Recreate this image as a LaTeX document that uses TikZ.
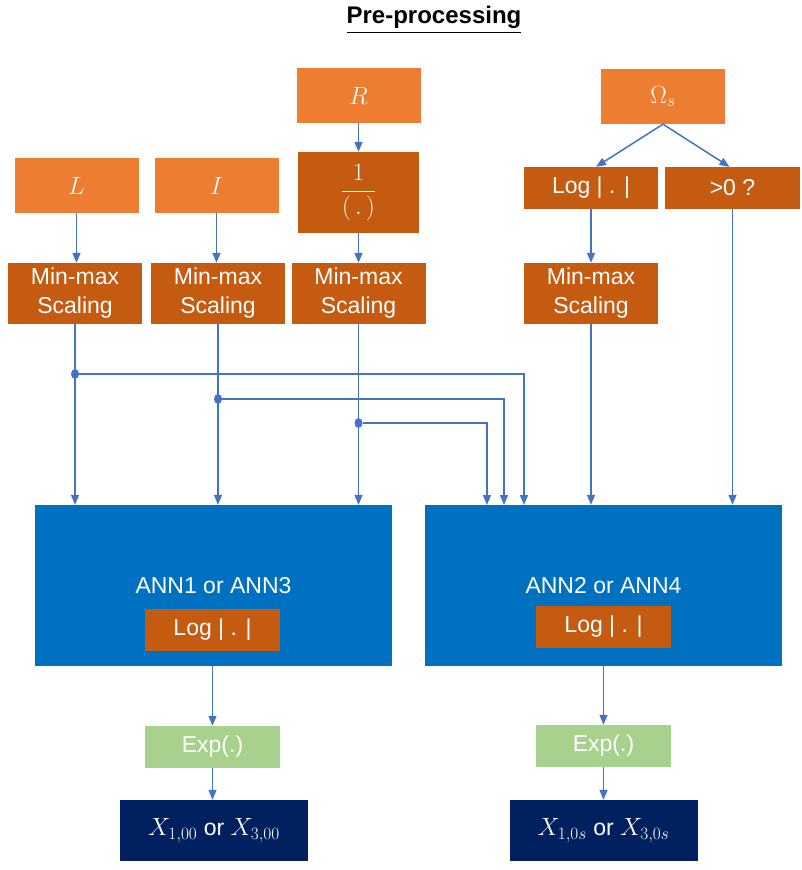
\documentclass[tikz,border=0pt]{standalone}
\usepackage{amsmath}
\usepackage{fontspec}
\setmainfont{Liberation Sans}
\usetikzlibrary{arrows.meta, positioning, calc, shapes.geometric}
\definecolor{inorange}{HTML}{ED7D31}
\definecolor{oporange}{HTML}{C55A11}
\definecolor{annblue}{HTML}{0070C0}
\definecolor{expgreen}{HTML}{A9D18E}
\definecolor{outnavy}{HTML}{002060}
\definecolor{linkblue}{HTML}{4472C4}

\begin{document}
\begin{tikzpicture}[x=1pt, y=-1pt,
  blk/.style={rectangle, fill=#1, text=white, inner sep=0pt, align=center,
    font=\fontsize{23}{29}\selectfont},
  inp/.style={blk=inorange, minimum width=124pt, minimum height=55pt,
    font=\fontsize{27}{30}\selectfont},
  op/.style={blk=oporange, minimum width=134pt, minimum height=42pt},
  mm/.style={blk=oporange, minimum width=134pt, minimum height=61pt},
  ann/.style={blk=annblue, minimum width=357pt, minimum height=161pt},
  expo/.style={blk=expgreen, minimum width=135pt, minimum height=42pt},
  outb/.style={blk=outnavy, minimum width=188pt, minimum height=61pt},
  arr/.style={-{Triangle[length=10pt,width=8pt]}, line width=1.5pt, linkblue},
  dot/.style={ellipse, fill=linkblue, inner sep=0pt, minimum width=8pt, minimum height=10pt}
]
  \useasboundingbox (0,0) rectangle (802,870);

  % Title
  \node[font=\fontsize{24}{28}\selectfont\bfseries] (title) at (434, 20)
    {\underline{Pre-processing}};

  % Inputs
  \node[inp] (inL) at (76.5, 185.5) {$L$};
  \node[inp] (inI) at (216.5, 185.5) {$I$};
  \node[inp] (inR) at (358.5, 95.5) {$R$};
  \node[inp] (inOm) at (663, 96.5) {$\Omega_s$};

  % Transformations
  \node[blk=oporange, minimum width=121pt, minimum height=81pt,
    font=\fontsize{26}{30}\selectfont] (recip) at (358.5, 192.5)
    {$\dfrac{1}{(\,.\,)}$};
  \node[op] (logOm) at (591, 188) {Log | . |};
  \node[op, minimum width=135pt] (pos) at (732.5, 188) {>0 ?};

  % Scaling
  \node[mm] (mm1) at (75, 293.5) {Min-max\\Scaling};
  \node[mm] (mm2) at (218, 293.5) {Min-max\\Scaling};
  \node[mm] (mm3) at (358.5, 293.5) {Min-max\\Scaling};
  \node[mm] (mm4) at (591, 293.5) {Min-max\\Scaling};

  % Networks
  \node[ann] (ann1) at (213.5, 585.5) {ANN1 or ANN3};
  \node[ann] (ann2) at (603.5, 585.5) {ANN2 or ANN4};
  \node[op, minimum width=135pt] (logA) at (212.5, 630) {Log | . |};
  \node[op, minimum width=135pt] (logB) at (603.5, 627) {Log | . |};

  % Outputs
  \node[expo] (exp1) at (212.5, 747) {Exp(.)};
  \node[expo] (exp2) at (603.5, 746) {Exp(.)};
  \node[outb] (out1) at (214, 830.5)
    {{\fontsize{26}{30}\selectfont$X_{1,00}$} or {\fontsize{26}{30}\selectfont$X_{3,00}$}};
  \node[outb] (out2) at (603.5, 830.5)
    {{\fontsize{26}{30}\selectfont$X_{1,0s}$} or {\fontsize{26}{30}\selectfont$X_{3,0s}$}};

  % Feeds into ANN2
  \coordinate (feedL) at (524, 505);
  \coordinate (feedI) at (504, 505);
  \coordinate (feedR) at (487, 505);

  % Arrows
  \draw[arr] (inL) -- (mm1.north -| inL);
  \draw[arr] (inI) -- (mm2.north -| inI);
  \draw[arr] (inR) -- (recip);
  \draw[arr] (recip) -- (mm3);
  \draw[arr] (inOm.south) -- ($(logOm.north)+(5,0)$);
  \draw[arr] (inOm.south) -- ($(pos.north)+(-3,0)$);
  \draw[arr] (logOm) -- (mm4);

  \draw[arr] (mm1) -- (mm1 |- ann1.north);
  \draw[arr] (mm2) -- (mm2 |- ann1.north);
  \draw[arr] (mm3) -- (mm3 |- ann1.north);
  \draw[arr] (mm4) -- (mm4 |- ann2.north);
  \draw[arr] (pos) -- (pos |- ann2.north);

  \node[dot] (d1) at (75, 374) {};
  \node[dot] (d2) at (218, 399) {};
  \node[dot] (d3) at (358.5, 423) {};
  \draw[arr] (d1) -| (feedL);
  \draw[arr] (d2) -| (feedI);
  \draw[arr] (d3) -| (feedR);

  \draw[arr] (ann1.south -| exp1) -- (exp1);
  \draw[arr] (exp1) -- (out1.north -| exp1);
  \draw[arr] (ann2.south) -- (exp2);
  \draw[arr] (exp2) -- (out2);
\end{tikzpicture}
\end{document}
